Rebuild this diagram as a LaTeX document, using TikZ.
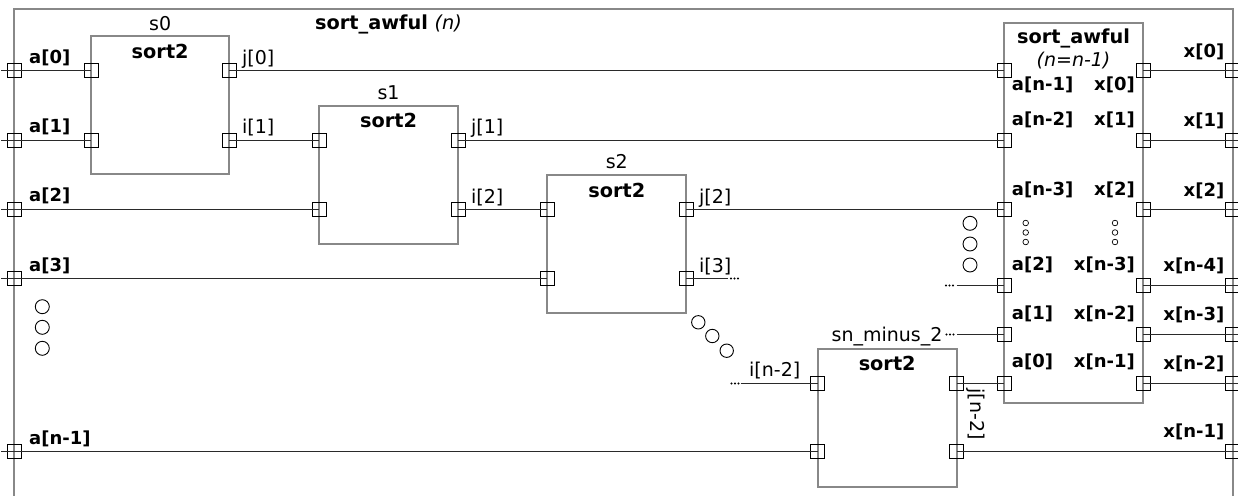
\documentclass[tikz,border=0pt]{standalone}
\usepackage{fontspec}
\setmainfont{DejaVu Sans}
\definecolor{boxgray}{HTML}{888888}
\definecolor{wirec}{HTML}{2a2a2a}
\newcommand\tdots[2]{\foreach \k in {0,1,2}{\fill[black] (#1+\k*3.5,#2) circle (1.1);}}
\begin{document}
\begin{tikzpicture}[x=1pt,y=-1pt,
  box/.style={draw=boxgray,line width=2pt,inner sep=0pt,rectangle},
  port/.style={draw=black,line width=0.9pt,minimum size=14pt,inner sep=0pt,rectangle},
  wire/.style={draw=wirec,line width=1.1pt},
  frame/.style={draw=boxgray,line width=2pt},
  txt/.style={inner sep=0pt,font=\fontsize{19}{22}\selectfont},
  btxt/.style={inner sep=0pt,font=\fontsize{18}{21}\selectfont\bfseries},
  ttxt/.style={inner sep=0pt,font=\fontsize{19.3}{22}\selectfont\bfseries},
  ell/.style={draw=black,line width=0.9pt},
]
\useasboundingbox (0,0) rectangle (1238,495);
% frame
\draw[frame] (14.3,496) -- (14.3,9.3) -- (1232.7,9.3) -- (1232.7,496);
\node[ttxt,anchor=base west] (title) at (315,29.5) {sort\_awful \textmd{\itshape (n)}};
% boxes
\node[box,minimum width=138pt,minimum height=138pt] (s0) at (160.2,105.3) {};
\node[box,minimum width=139pt,minimum height=138pt] (s1) at (388.5,174.85) {};
\node[box,minimum width=139pt,minimum height=138pt] (s2) at (616.8,244.3) {};
\node[box,minimum width=139pt,minimum height=138pt] (sn) at (887.2,417.5) {};
\node[box,minimum width=139pt,minimum height=380.6pt] (sa) at (1073.8,213) {};
% box titles
\node[txt,anchor=base] (s0t) at (160.2,30.3) {s0};
\node[txt,anchor=base] (s1t) at (388.5,99.3) {s1};
\node[txt,anchor=base] (s2t) at (616.8,168.6) {s2};
\node[txt,anchor=base] (snt) at (887,341.8) {sn\_minus\_2};
\node[ttxt,anchor=base] (s0n) at (160.2,58.5) {sort2};
\node[ttxt,anchor=base] (s1n) at (388.5,127.7) {sort2};
\node[ttxt,anchor=base] (s2n) at (616.8,197) {sort2};
\node[ttxt,anchor=base] (snn) at (887.2,370) {sort2};
\node[ttxt,anchor=base] (san) at (1073.5,43.5) {sort\_awful};
\node[txt,anchor=base] (sap) at (1073.5,66.5) {\itshape (n=n-1)};
% ports
\foreach \n/\x/\y in {fl0/14.3/70.5, fl1/14.3/140.5, fl2/14.3/209.5, fl3/14.3/278.5, fln/14.3/451.5,
  fr0/1232.7/70.5, fr1/1232.7/140.5, fr2/1232.7/209.5, fr3/1232.7/285.5, fr4/1232.7/334.5, fr5/1232.7/383.5, frn/1232.7/451.5,
  s0a/91/70.5, s0b/91/140.5, s0j/229.3/70.5, s0i/229.3/140.5,
  s1a/319/140.5, s1b/319/209.5, s1j/458/140.5, s1i/458/209.5,
  s2a/547.3/209.5, s2b/547.3/278.5, s2j/686.3/209.5, s2i/686.3/278.5,
  sna/817.7/383.5, snb/817.7/451.5, snj/956.7/383.5, sni/956.7/451.5,
  sai0/1004.3/70.5, sai1/1004.3/140.5, sai2/1004.3/209.5, sai3/1004.3/285.5, sai4/1004.3/334.5, sai5/1004.3/383.5,
  sao0/1143.3/70.5, sao1/1143.3/140.5, sao2/1143.3/209.5, sao3/1143.3/285.5, sao4/1143.3/334.5, sao5/1143.3/383.5}
  {\node[port] (\n) at (\x,\y) {};}
% free ends
\coordinate (la0) at (1,70.5);
\coordinate (la1) at (1,140.5);
\coordinate (la2) at (1,209.5);
\coordinate (la3) at (1,278.5);
\coordinate (lan) at (1,451.5);
\foreach \n/\y in {ra0/70.5, ra1/140.5, ra2/209.5, ra3/285.5, ra4/334.5, ra5/383.5, ran/451.5}
  {\coordinate (\n) at (1245,\y);}
\coordinate (i3e) at (728.3,278.5);
\coordinate (in2s) at (740.5,383.5);
\coordinate (sa3s) at (956.7,285.5);
\coordinate (sa4s) at (957,334.5);
% wires
\draw[wire] (la0) -- (fl0.center) -- (s0a.center);
\draw[wire] (la1) -- (fl1.center) -- (s0b.center);
\draw[wire] (la2) -- (fl2.center) -- (s1b.center);
\draw[wire] (la3) -- (fl3.center) -- (s2b.center);
\draw[wire] (lan) -- (fln.center) -- (snb.center);
\draw[wire] (s0j.center) -- (sai0.center);
\draw[wire] (s0i.center) -- (s1a.center);
\draw[wire] (s1j.center) -- (sai1.center);
\draw[wire] (s1i.center) -- (s2a.center);
\draw[wire] (s2j.center) -- (sai2.center);
\draw[wire] (s2i.center) -- (i3e);
\draw[wire] (in2s) -- (sna.center);
\draw[wire] (snj.center) -- (sai5.center);
\draw[wire] (sni.center) -- (frn.center) -- (ran);
\draw[wire] (sa3s) -- (sai3.center);
\draw[wire] (sa4s) -- (sai4.center);
\foreach \k in {0,...,5}{\draw[wire] (sao\k.center) -- (fr\k.center) -- (ra\k);}
% tiny dots
\tdots{731}{278.5}
\tdots{731.5}{383.5}
\tdots{946}{285.5}
\tdots{946.5}{334.5}
% left labels
\node[btxt,anchor=base west] (la0t) at (29,63.2) {a[0]};
\node[btxt,anchor=base west] (la1t) at (29,132.5) {a[1]};
\node[btxt,anchor=base west] (la2t) at (29,201.9) {a[2]};
\node[btxt,anchor=base west] (la3t) at (29,271.2) {a[3]};
\node[btxt,anchor=base west] (lant) at (29,444.2) {a[n-1]};
% wire labels
\node[txt,anchor=base west] (j0t) at (242,64.3) {j[0]};
\node[txt,anchor=base west] (i1t) at (242,133.6) {i[1]};
\node[txt,anchor=base west] (j1t) at (471,133.6) {j[1]};
\node[txt,anchor=base west] (i2t) at (471,203) {i[2]};
\node[txt,anchor=base west] (j2t) at (699,203) {j[2]};
\node[txt,anchor=base west] (i3t) at (699,272.3) {i[3]};
\node[txt,anchor=base west] (in2t) at (749,376.5) {i[n-2]};
\node[txt,rotate=-90] (jn2t) at (975.5,414) {j[n-2]};
% right outer labels
\node[btxt,anchor=base east] (x0t) at (1224.5,57.5) {x[0]};
\node[btxt,anchor=base east] (x1t) at (1224.5,126.8) {x[1]};
\node[btxt,anchor=base east] (x2t) at (1224.5,196.2) {x[2]};
\node[btxt,anchor=base east] (x3t) at (1224.5,271.5) {x[n-4]};
\node[btxt,anchor=base east] (x4t) at (1224.5,320.5) {x[n-3]};
\node[btxt,anchor=base east] (x5t) at (1224.5,369.3) {x[n-2]};
\node[btxt,anchor=base east] (xnt) at (1224.5,437.5) {x[n-1]};
% sort_awful inner labels
\node[btxt,anchor=base west] (ia0) at (1011.7,90.8) {a[n-1]};
\node[btxt,anchor=base west] (ia1) at (1011.7,125.8) {a[n-2]};
\node[btxt,anchor=base west] (ia2) at (1011.7,195.2) {a[n-3]};
\node[btxt,anchor=base west] (ia3) at (1011.7,270.8) {a[2]};
\node[btxt,anchor=base west] (ia4) at (1011.7,319.8) {a[1]};
\node[btxt,anchor=base west] (ia5) at (1011.7,367.8) {a[0]};
\node[btxt,anchor=base east] (ox0) at (1135,90.8) {x[0]};
\node[btxt,anchor=base east] (ox1) at (1135,125.8) {x[1]};
\node[btxt,anchor=base east] (ox2) at (1135,195.2) {x[2]};
\node[btxt,anchor=base east] (ox3) at (1135,270.8) {x[n-3]};
\node[btxt,anchor=base east] (ox4) at (1135,319.8) {x[n-2]};
\node[btxt,anchor=base east] (ox5) at (1135,367.8) {x[n-1]};
% ellipsis circles
\foreach \y in {306.7,327.3,348.3}{\draw[ell] (42.3,\y) circle (7);}
\foreach \x/\y in {698.3/322.3,712.3/336,726.7/350.7}{\draw[ell] (\x,\y) circle (6.7);}
\foreach \y in {223.3,244,265}{\draw[ell] (970,\y) circle (7);}
\foreach \y in {223,232.5,242}{\draw[ell,line width=0.7pt] (1025.7,\y) circle (2.8); \draw[ell,line width=0.7pt] (1115,\y) circle (2.8);}
\end{tikzpicture}
\end{document}
